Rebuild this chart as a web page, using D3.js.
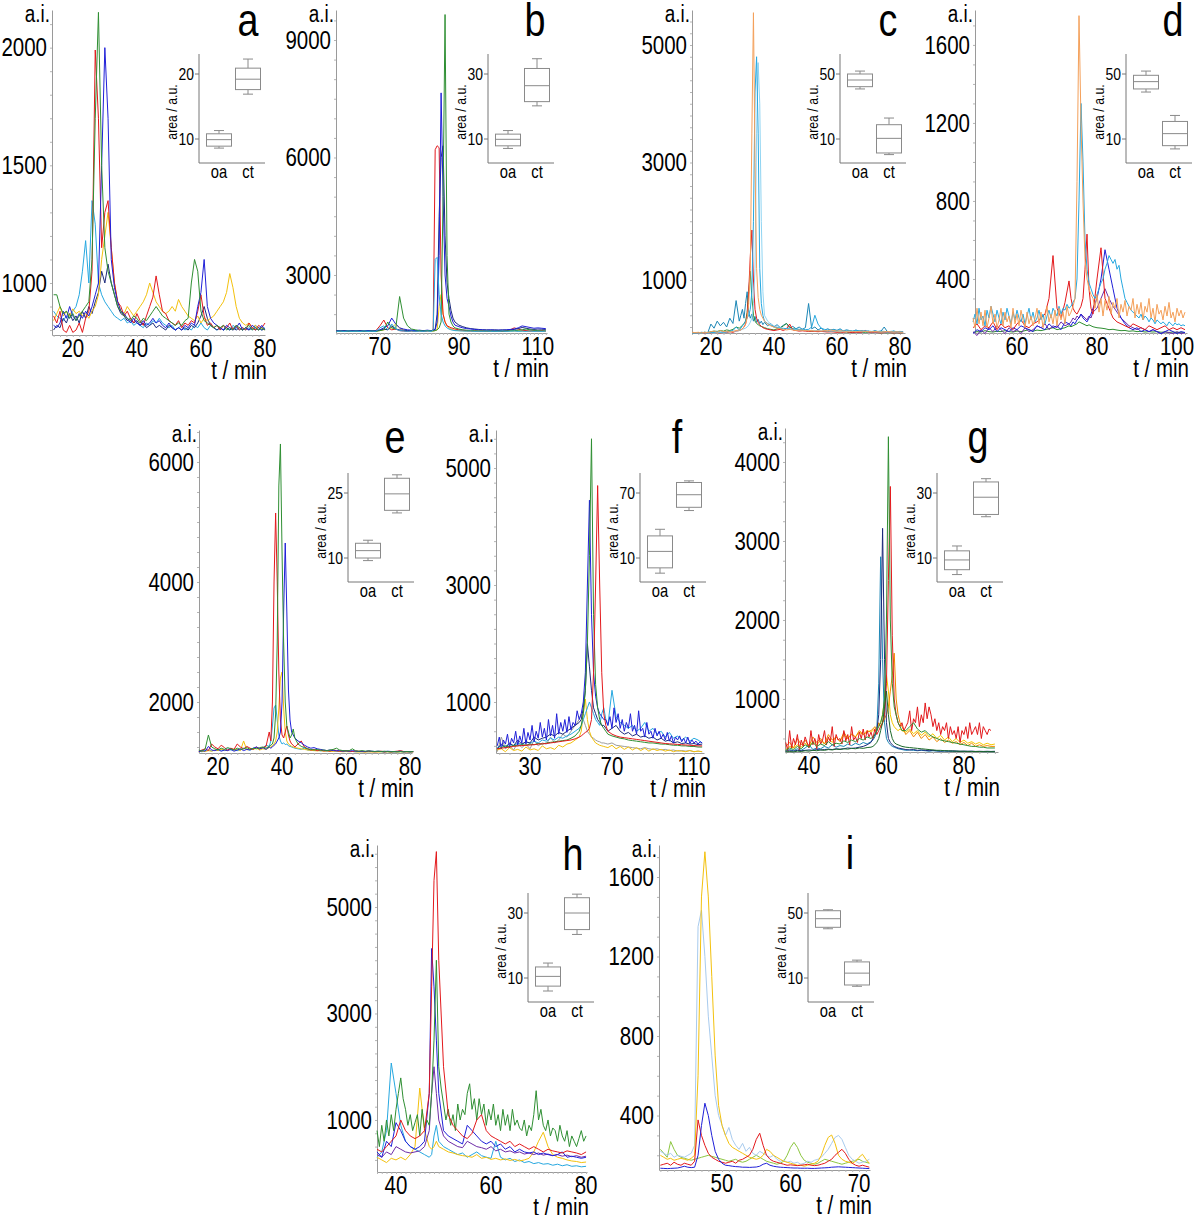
<!DOCTYPE html>
<html><head><meta charset="utf-8">
<script src="https://cdn.jsdelivr.net/npm/d3@7"></script>
<style>
body{margin:0;background:#fff}
svg{display:block}
text{font-family:"Liberation Sans",Arial,sans-serif;fill:#000}
</style></head><body>
<svg id="chart" width="1200" height="1215"></svg>
<script>
// ---------------- DATA ----------------
// Panel a
const aTime=[14,15,16,17,18,19,20,21,22,23,24,25,26,27,28,29,30,31,32,33,34,35,36,37,38,39,40,41,42,43,44,45,46,47,48,49,50,51,52,53,54,55,56,57,58,59,60,61,62,63,64,65,66,67,68,69,70,71,72,73,74,75,76,77,78,79,80];
const aRed=[860,830,880,800,790,820,790,800,830,790,850,880,1050,1990,1700,1150,1300,1350,1150,1000,920,900,860,880,850,830,870,840,820,860,900,940,1030,950,880,870,840,830,820,840,810,830,820,840,830,880,950,860,820,830,810,820,800,820,810,830,800,820,800,810,800,830,810,800,820,810,830];
const aGreen=[950,950,900,870,880,850,870,840,860,880,900,920,1100,1700,2150,1500,1150,1050,1000,950,900,880,860,850,840,860,850,830,850,840,860,880,900,880,860,850,840,830,820,830,820,840,850,1000,1100,1050,880,840,830,820,810,820,810,820,800,810,800,820,810,800,810,820,800,810,800,810,800];
const aBlue=[820,810,830,880,850,900,860,840,870,850,880,860,900,950,1000,1500,2000,1700,1100,980,920,880,870,850,830,850,830,820,840,820,830,850,830,840,820,810,830,810,800,810,800,820,810,830,820,900,960,1100,900,850,830,820,810,800,820,810,800,810,830,800,810,800,820,810,800,820,800];
const aGold=[840,870,900,860,880,860,890,870,880,860,870,850,880,900,950,1100,1200,1300,1150,1000,920,880,870,900,880,860,880,900,920,950,1000,960,920,900,880,870,880,900,880,930,900,880,860,850,840,860,830,850,840,850,860,880,900,920,960,1040,980,900,850,830,820,830,810,820,800,810,800];
const aCyan=[880,860,850,840,860,850,880,900,950,1050,1180,1000,1350,1250,1000,950,920,900,880,860,850,840,850,830,840,820,830,820,810,830,820,840,830,850,830,820,810,820,800,810,820,800,810,800,820,810,830,810,800,820,810,800,810,800,810,800,820,810,800,810,800,810,800,820,810,800,810];
const aNavy=[800,820,810,850,830,870,840,860,830,880,850,900,870,920,960,1050,1000,1080,1000,950,900,870,860,840,850,830,840,820,830,810,820,830,810,820,810,800,820,810,800,810,800,810,800,820,810,830,860,900,850,820,810,800,810,800,810,800,810,800,810,800,810,800,810,800,810,800,805];
const aYTicks=[1000,1500,2000], aXTicks=[20,40,60,80], aInTicks=[10,20];
const aOa=[8.6,8.9,9.9,10.8,11.3], aCt=[16.9,17.6,19.2,20.9,22.3];

// Panel b
const bTime=[59,60,61,62,63,64,65,66,67,68,69,70,71,72,73,74,75,76,77,78,79,80,81,82,83,83.5,84,84.5,85,85.5,86,86.5,87,87.5,88,88.5,89,90,91,92,93,94,95,96,97,98,99,100,101,102,103,104,105,106,107,108,109,110,111,112];
const bRed=[1570,1560,1580,1570,1560,1570,1580,1560,1570,1560,1580,1700,1850,1650,1600,1620,1580,1570,1560,1570,1560,1570,1560,1570,1580,1600,6200,6300,6250,3000,2000,1800,1700,1680,1650,1640,1620,1600,1590,1580,1570,1575,1570,1565,1570,1560,1570,1565,1560,1570,1600,1650,1620,1590,1580,1570,1575,1570,1580,1570];
const bGreen=[1560,1570,1560,1570,1560,1570,1560,1570,1560,1570,1560,1580,1600,1800,1650,1620,2450,1900,1700,1620,1600,1580,1570,1580,1570,1570,1580,1600,1650,1800,5000,9650,3500,2000,1800,1700,1650,1620,1600,1590,1580,1575,1570,1570,1565,1570,1560,1570,1565,1570,1575,1580,1590,1600,1620,1600,1590,1580,1570,1575];
const bBlue=[1570,1580,1570,1575,1570,1580,1570,1575,1580,1570,1575,1600,1650,1700,1900,1750,1650,1620,1600,1590,1580,1590,1580,1590,1580,1590,1600,1800,3500,7650,5000,3000,2400,2200,1950,1800,1720,1680,1650,1630,1620,1610,1600,1600,1590,1600,1590,1595,1590,1600,1610,1620,1650,1700,1680,1660,1640,1650,1640,1630];
const bNavy=[1580,1575,1580,1570,1580,1575,1580,1570,1575,1580,1570,1590,1620,1600,1700,1620,1600,1590,1580,1590,1580,1585,1580,1585,1580,1590,1620,2000,4500,6000,6300,4000,2800,2400,2100,1900,1800,1720,1680,1650,1630,1620,1610,1600,1600,1595,1600,1590,1600,1595,1600,1610,1630,1660,1640,1620,1610,1620,1615,1610];
const bCyan=[1560,1565,1560,1570,1560,1565,1560,1570,1560,1565,1560,1650,1700,1600,1750,1620,1580,1570,1560,1570,1560,1565,1560,1570,1560,1600,3400,3450,2500,2000,1800,1700,1650,1620,1600,1590,1580,1575,1570,1565,1570,1560,1565,1560,1570,1560,1565,1560,1570,1560,1565,1570,1560,1565,1560,1570,1560,1565,1560,1570];
const bGold=[1575,1570,1575,1570,1575,1570,1575,1570,1575,1570,1575,1580,1600,1620,1650,1750,1650,1600,1580,1575,1570,1575,1570,1575,1570,1575,1580,1600,2200,2500,2000,1800,1700,1650,1620,1600,1590,1580,1575,1570,1575,1570,1575,1570,1575,1570,1575,1570,1575,1570,1575,1570,1575,1570,1575,1570,1575,1570,1575,1570];
const bYTicks=[3000,6000,9000], bXTicks=[70,90,110], bInTicks=[10,30];
const bOa=[7.1,7.9,9.9,11.5,12.6], bCt=[20.2,21.5,26.4,31.7,34.7];

// Panel c
const cTime=[14,15,16,17,18,19,20,21,22,23,24,25,26,27,28,29,29.5,30,30.5,31,31.5,32,32.5,33,33.5,34,34.5,35,35.5,36,36.5,37,38,39,40,41,42,43,44,45,46,47,48,49,50,51,52,53,54,55,56,57,58,59,60,61,62,63,64,65,66,67,68,69,70,71,72,73,74,75,76,77,78,79,80,81];
const cOrange=[110,105,110,100,110,105,120,130,110,140,120,130,115,125,140,150,150,170,200,250,350,600,1200,3500,5550,3000,1200,700,500,400,350,300,250,220,200,180,170,160,150,160,150,140,150,145,140,135,140,130,135,130,140,135,150,140,130,135,130,125,130,125,120,125,130,120,125,120,125,120,115,120,125,120,115,120,115,110];
const cCyan=[100,100,105,100,110,100,105,110,120,115,110,120,130,140,200,150,180,220,250,300,350,400,500,800,2000,4200,4800,3500,1200,600,400,300,260,230,200,190,180,170,175,165,160,170,160,165,155,160,200,400,250,180,160,150,155,150,145,150,140,145,140,135,140,135,130,135,130,125,130,125,130,125,120,125,130,120,125,120];
const cLightCyan=[100,100,100,100,105,100,105,100,110,105,110,115,120,125,130,140,150,160,170,180,200,230,280,350,600,1200,3500,4700,4000,2000,800,400,300,250,220,200,190,180,170,165,160,155,150,150,145,145,140,140,138,135,135,132,130,130,128,126,125,124,123,122,121,120,120,119,118,118,117,116,116,115,115,114,114,113,113,112];
const cRed=[100,100,100,105,100,105,100,110,105,100,110,105,120,110,130,140,150,170,200,250,400,800,1400,1850,1000,500,350,280,240,210,190,175,160,150,140,150,160,140,170,250,150,140,130,135,130,125,130,125,120,125,120,115,120,115,110,115,110,120,110,105,110,105,110,140,110,105,110,105,100,105,110,105,100,105,100,105];
const cGreen=[100,100,105,100,110,105,120,130,125,140,130,150,140,160,200,180,200,230,260,300,450,800,1150,700,400,300,260,240,220,210,200,190,170,160,150,170,180,220,260,200,170,160,150,145,140,135,130,135,130,125,130,125,120,125,120,115,120,115,110,115,110,115,110,105,110,105,110,105,100,105,100,105,100,105,100,105];
const cTeal=[100,105,100,110,105,100,250,180,300,220,280,200,350,260,650,300,400,500,350,600,800,450,350,420,300,380,280,330,260,300,240,280,220,260,200,240,190,230,260,180,210,170,200,160,190,600,170,200,150,180,140,170,150,160,140,170,130,150,140,120,150,130,140,120,130,110,140,120,130,200,120,110,130,115,110,120];
const cYTicks=[1000,3000,5000], cXTicks=[20,40,60,80], cInTicks=[10,50];
const cOa=[40.8,42.2,46.3,50,51.8], cCt=[0.4,1.4,10.4,18.8,22.9];

// Panel d
const dTime=[49,50,51,52,53,54,55,56,57,58,59,60,61,62,63,64,65,66,67,68,69,70,71,72,73,73.5,74,74.5,75,75.5,76,76.5,77,77.5,78,78.5,79,80,81,82,83,84,85,86,87,88,89,90,91,92,93,94,95,96,97,98,99,100,101,102];
const dDenseTime=[49,49.5,50,50.5,51,51.5,52,52.5,53,53.5,54,54.5,55,55.5,56,56.5,57,57.5,58,58.5,59,59.5,60,60.5,61,61.5,62,62.5,63,63.5,64,64.5,65,65.5,66,66.5,67,67.5,68,68.5,69,69.5,70,70.5,71,71.5,72,72.5,73,73.5,74,74.5,75,75.5,76,76.5,77,77.5,78,78.5,79,79.5,80,80.5,81,81.5,82,82.5,83,83.5,84,84.5,85,85.5,86,86.5,87,87.5,88,88.5,89,89.5,90,90.5,91,91.5,92,92.5,93,93.5,94,94.5,95,95.5,96,96.5,97,97.5,98,98.5,99,99.5,100,100.5,101,101.5,102];
const dOrange=[200,150,250,170,230,160,240,150,200,260,170,220,150,190,250,160,230,180,210,150,250,170,220,160,240,190,150,230,170,210,160,200,250,170,230,150,200,260,180,220,170,240,160,250,190,230,170,260,210,230,260,300,900,1750,1200,800,500,400,350,320,300,250,320,230,300,210,290,240,310,220,280,250,300,200,270,230,290,210,260,240,300,200,270,220,280,190,260,230,300,200,250,180,270,220,240,190,260,210,280,200,230,180,250,210,240,200,230];
const dCyan=[180,220,170,250,190,210,160,240,200,260,220,180,240,200,170,230,190,250,210,170,230,190,240,200,180,220,170,210,250,190,230,180,200,240,190,220,170,210,240,200,250,230,210,260,220,250,240,270,250,260,280,300,400,800,1300,1000,600,450,380,350,320,300,320,350,380,400,450,480,520,500,480,500,450,470,400,350,300,280,260,240,230,220,210,200,220,190,210,200,180,200,190,170,190,180,170,180,170,160,180,170,160,175,165,170,160,165,160];
const dRed=[150,170,140,160,150,180,140,170,150,160,140,170,190,160,150,170,180,200,220,300,520,250,200,280,390,300,250,230,220,240,260,300,450,630,350,250,220,400,560,300,250,200,180,170,160,150,170,160,150,140,160,150,140,150,160,140,150,140,150,140];
const dBlue=[120,140,130,150,140,160,130,150,140,130,150,140,160,150,140,130,160,150,140,170,150,160,140,180,170,160,180,170,190,200,220,200,190,180,200,220,250,300,400,550,450,350,250,200,170,150,140,150,130,140,130,140,130,120,130,140,130,120,130,125];
const dPurple=[130,110,140,120,150,130,160,140,120,150,130,140,120,150,130,140,160,150,170,140,160,150,180,160,170,180,200,190,210,200,220,210,200,190,210,200,230,250,300,350,300,260,230,200,180,160,150,140,150,140,130,140,130,120,130,125,120,130,120,125];
const dGreen=[125,130,128,135,130,128,132,130,135,130,128,133,130,135,140,132,138,135,140,145,150,140,145,150,160,155,160,165,170,180,175,170,165,160,165,160,155,150,148,145,140,142,138,135,136,132,134,130,132,128,130,128,130,127,128,126,128,126,127,126];
const dYTicks=[400,800,1200,1600], dXTicks=[60,80,100], dInTicks=[10,50];
const dOa=[38.9,40.8,45.3,49.2,51.8], dCt=[3.9,5.9,13.3,20.8,24.5];

// Panel e
const eTime=[14,15,16,17,18,19,20,21,22,23,24,25,26,27,28,29,30,31,32,33,34,35,36,36.5,37,37.5,38,38.5,39,39.5,40,40.5,41,41.5,42,42.5,43,43.5,44,45,46,47,48,49,50,51,52,53,54,55,56,57,58,59,60,61,62,63,64,65,66,67,68,69,70,71,72,73,74,75,76,77,78,79,80,81];
const eRed=[1180,1200,1220,1190,1300,1250,1220,1280,1240,1200,1230,1210,1300,1250,1220,1260,1230,1210,1250,1220,1240,1260,1500,1350,2000,4000,5150,4000,2500,1700,1450,1400,1500,1600,1450,1350,1300,1280,1250,1300,1350,1250,1220,1200,1210,1190,1200,1185,1190,1180,1200,1190,1180,1185,1190,1180,1175,1185,1180,1175,1170,1180,1175,1170,1175,1180,1170,1175,1170,1175,1180,1190,1175,1170,1175,1170];
const eGreen=[1200,1180,1220,1450,1250,1220,1200,1230,1210,1240,1220,1200,1230,1210,1220,1240,1210,1230,1220,1240,1250,1230,1260,1280,1300,1400,1800,3000,5600,6300,4500,3000,2000,1600,1500,1400,1450,1550,1400,1300,1260,1240,1220,1210,1200,1210,1195,1200,1190,1200,1210,1230,1200,1190,1185,1190,1220,1185,1180,1190,1180,1185,1180,1175,1180,1175,1180,1175,1170,1175,1170,1175,1170,1175,1170,1175];
const eBlue=[1170,1190,1180,1260,1200,1190,1210,1180,1200,1190,1210,1180,1200,1220,1190,1210,1200,1230,1250,1220,1240,1210,1250,1230,1250,1280,1300,1350,1400,1500,2000,3500,4650,3500,2200,1700,1500,1450,1400,1350,1320,1280,1250,1230,1240,1220,1210,1200,1190,1200,1190,1185,1190,1180,1185,1180,1190,1180,1175,1180,1175,1185,1180,1175,1180,1175,1170,1180,1175,1170,1175,1180,1170,1175,1170,1175];
const eGold=[1170,1180,1175,1190,1180,1200,1190,1210,1200,1190,1220,1200,1210,1190,1350,1200,1220,1210,1230,1200,1220,1210,1240,1250,1270,1300,1350,1500,1900,2400,2500,1900,1500,1350,1300,1280,1260,1250,1240,1230,1220,1210,1200,1195,1190,1185,1190,1180,1185,1180,1175,1180,1175,1170,1175,1170,1175,1170,1165,1170,1165,1170,1165,1170,1165,1170,1165,1170,1165,1170,1165,1170,1165,1170,1165,1170];
const eCyan=[1180,1170,1190,1200,1185,1195,1210,1200,1190,1220,1200,1210,1190,1200,1230,1210,1200,1220,1240,1210,1230,1280,1260,1350,1600,1900,1950,1700,1450,1350,1300,1320,1290,1300,1270,1260,1250,1240,1230,1220,1210,1230,1200,1195,1190,1200,1185,1190,1180,1185,1200,1180,1175,1180,1175,1180,1175,1170,1175,1170,1175,1170,1175,1170,1175,1170,1165,1170,1165,1170,1165,1170,1165,1170,1165,1170];
const eYTicks=[2000,4000,6000], eXTicks=[20,40,60,80], eInTicks=[10,25];
const eOa=[9.4,10.0,11.7,13.4,14.1], eCt=[20.4,21.0,24.8,28.4,29.2];

// Panel f
const fTime=[14,16,18,20,22,24,26,28,30,32,34,36,38,40,42,44,46,48,50,52,54,55,56,57,58,59,60,61,62,63,64,65,66,67,68,70,72,74,76,78,80,82,84,86,88,90,92,94,96,98,100,102,104,106,108,110,112,114];
const fDenseTime=[14,15,16,17,18,19,20,21,22,23,24,25,26,27,28,29,30,31,32,33,34,35,36,37,38,39,40,41,42,43,44,45,46,47,48,49,50,51,52,53,54,55,56,57,58,59,60,61,62,63,64,65,66,67,68,69,70,71,72,73,74,75,76,77,78,79,80,81,82,83,84,85,86,87,88,89,90,91,92,93,94,95,96,97,98,99,100,101,102,103,104,105,106,107,108,109,110,111,112,113,114];
const fBlue=[250,400,200,350,280,450,220,380,300,500,260,420,300,550,280,480,350,600,320,500,380,650,400,550,350,700,420,600,380,800,450,650,500,700,480,750,520,650,600,850,700,800,1000,1500,3000,4450,2500,1500,1100,900,800,750,700,700,600,750,550,900,650,800,550,700,500,650,550,800,500,600,450,850,500,550,400,650,450,500,380,550,420,500,380,450,350,480,330,420,300,400,350,420,320,380,300,400,290,350,300,330,280,320,300];
const fNavy=[200,280,220,300,250,350,280,320,300,400,350,380,400,450,420,480,450,500,550,600,650,700,900,1200,2000,1600,1200,900,800,700,650,600,600,550,500,550,600,500,450,480,420,450,400,420,380,400,350,380,330,350,300,320,290,300,280,290,270,280];
const fGreen=[200,220,250,230,260,250,270,260,280,270,290,280,300,310,320,330,340,350,380,420,500,600,800,1200,2000,3500,5500,2500,1300,900,700,600,550,500,450,420,400,380,370,350,340,330,320,310,300,300,290,280,280,270,260,260,250,250,240,240,230,230];
const fRed=[200,210,220,230,240,250,255,260,265,270,280,285,290,300,310,320,330,340,350,370,400,420,450,480,500,550,700,1500,3000,4700,3000,1500,800,600,500,450,420,400,390,380,370,360,350,340,330,320,310,300,290,285,280,275,270,265,260,255,250,250];
const fGold=[180,200,150,220,170,190,160,230,180,200,170,250,200,220,190,260,230,280,300,350,400,500,800,1050,700,500,400,350,300,280,260,250,240,230,220,260,200,240,190,230,180,220,170,210,160,200,170,190,160,180,150,170,160,150,170,150,160,150];
const fGray=[150,400,200,250,180,300,220,280,200,350,250,300,280,400,300,350,450,400,500,600,700,800,700,600,500,450,400,380,350,330,320,300,300,290,280,300,260,250,240,230,220,210,200,220,200,190,200,180,190,170,180,160,170,160,170,150,160,150];
const fCyan=[220,260,240,280,250,300,270,320,290,330,300,350,330,380,350,400,380,420,450,500,550,600,700,800,900,1000,900,800,700,650,600,800,900,700,600,1200,750,650,600,550,600,500,550,650,500,550,450,500,400,480,380,420,350,400,330,380,350,300];
const fYTicks=[1000,3000,5000], fXTicks=[30,70,110], fInTicks=[10,70];
const fOa=[-4.0,0.9,16.1,30.4,36.5], fCt=[53.8,56.8,68.4,79.7,81.2];

// Panel g
const gTime=[34,35,36,37,38,39,40,41,42,43,44,45,46,47,48,49,50,51,52,53,54,55,56,56.5,57,57.5,58,58.5,59,59.5,60,60.5,61,61.5,62,62.5,63,63.5,64,65,66,67,68,69,70,71,72,73,74,75,76,77,78,79,80,81,82,83,84,85,86,87,88];
const gDenseTime=[34,34.5,35,35.5,36,36.5,37,37.5,38,38.5,39,39.5,40,40.5,41,41.5,42,42.5,43,43.5,44,44.5,45,45.5,46,46.5,47,47.5,48,48.5,49,49.5,50,50.5,51,51.5,52,52.5,53,53.5,54,54.5,55,55.5,56,56.5,57,57.5,58,58.5,59,59.5,60,60.5,61,61.5,62,62.5,63,63.5,64,64.5,65,65.5,66,66.5,67,67.5,68,68.5,69,69.5,70,70.5,71,71.5,72,72.5,73,73.5,74,74.5,75,75.5,76,76.5,77,77.5,78,78.5,79,79.5,80,80.5,81,81.5,82,82.5,83,83.5,84,84.5,85,85.5,86,86.5,87];
const gRed=[450,350,600,380,500,420,550,360,480,400,520,450,380,600,420,500,370,550,430,480,600,420,520,460,650,400,550,480,500,430,600,470,550,420,650,480,520,450,580,500,620,480,600,520,580,500,620,550,600,650,700,800,1200,2500,3690,1800,1000,800,700,650,700,600,650,700,850,600,750,700,900,650,800,700,950,750,900,800,650,750,600,700,550,650,600,700,500,650,550,600,500,650,450,600,550,650,500,700,550,600,650,550,700,500,650,600,550,620,600];
const gGreen=[350,380,360,400,370,420,390,450,400,430,410,460,420,440,430,470,450,480,460,500,480,520,500,520,550,600,650,700,800,1000,2000,4320,2000,1200,900,800,700,650,600,600,650,700,620,580,600,550,520,500,480,470,460,450,440,430,420,410,400,400,390,390,380,380,380];
const gNavy=[340,345,340,350,345,350,355,350,360,355,360,365,360,370,365,370,380,375,380,390,400,420,450,500,550,600,800,1500,3160,1500,700,500,450,420,400,390,380,375,370,360,355,360,350,355,350,345,350,345,340,345,340,345,340,338,340,338,340,336,338,336,338,336,338];
const gOrange=[400,450,380,500,420,480,400,520,450,500,430,550,480,520,460,580,500,550,520,600,550,580,600,620,650,600,700,650,700,750,800,900,1100,1300,1580,1000,800,700,650,550,600,520,580,500,550,480,520,460,500,450,480,440,460,420,450,410,440,400,420,400,410,400,400];
const gYellow=[360,400,380,420,390,440,400,460,420,480,430,500,450,520,470,540,500,560,520,580,550,600,580,600,620,640,660,700,800,1000,1300,1100,800,700,650,620,600,620,600,580,620,560,600,540,580,520,560,500,540,480,520,460,500,450,480,440,460,430,450,420,440,420,430];
const gDarkGreen=[330,335,330,340,335,345,340,350,345,355,350,360,355,365,360,370,365,375,370,380,375,385,390,400,420,450,500,600,700,900,1100,800,600,500,450,430,420,410,400,390,385,380,375,370,365,360,355,350,350,345,345,340,340,338,338,336,336,335,335,334,334,333,333];
const gTeal=[340,360,345,370,350,380,420,360,380,370,400,380,420,390,410,400,430,410,440,420,450,430,460,480,520,600,1200,2800,1500,700,500,450,420,400,390,380,370,365,360,350,355,350,345,350,345,340,345,340,338,340,338,336,338,336,335,336,335,334,335,334,333,334,333];
const gYTicks=[1000,2000,3000,4000], gXTicks=[40,60,80], gInTicks=[10,30];
const gOa=[4.9,6.4,9.4,12.2,13.7], gCt=[22.7,23.4,28.7,33.4,34.4];

// Panel h
const hTime=[36,37,38,39,40,41,42,43,44,45,46,47,47.5,48,48.5,49,50,51,52,53,54,55,56,57,58,59,60,61,62,63,64,65,66,67,68,69,70,71,72,73,74,75,76,77,78,79,80];
const hDenseTime=[36,36.5,37,37.5,38,38.5,39,39.5,40,40.5,41,41.5,42,42.5,43,43.5,44,44.5,45,45.5,46,46.5,47,47.5,48,48.5,49,49.5,50,50.5,51,51.5,52,52.5,53,53.5,54,54.5,55,55.5,56,56.5,57,57.5,58,58.5,59,59.5,60,60.5,61,61.5,62,62.5,63,63.5,64,64.5,65,65.5,66,66.5,67,67.5,68,68.5,69,69.5,70,70.5,71,71.5,72,72.5,73,73.5,74,74.5,75,75.5,76,76.5,77,77.5,78,78.5,79,79.5,80];
const hRed=[450,400,500,600,700,1000,800,700,650,700,800,1500,3500,5500,6040,4000,2000,1100,900,800,700,650,750,1000,1100,800,700,650,600,550,600,500,550,500,450,500,450,400,450,420,400,380,420,400,380,350,400];
const hGreen=[800,500,900,600,1000,700,1100,800,1200,1500,1790,1400,1200,900,1100,800,950,1100,700,1200,850,1000,900,1500,2500,4000,2000,1600,1300,1000,1200,900,1100,800,1300,1000,1200,1100,1500,1680,1200,1400,1000,1400,1100,1300,900,1200,1000,1300,900,1100,800,1200,900,1100,800,1200,900,1000,850,800,1000,700,900,800,1100,1550,1000,1200,900,800,1000,700,850,800,600,900,700,600,800,500,700,600,500,650,800,600,700];
const hBlue=[400,300,600,500,950,800,600,500,450,500,600,1500,4220,3500,2500,1500,800,700,650,600,550,900,800,700,600,550,600,500,550,450,500,400,450,400,380,400,350,380,350,330,350,400,300,320,300,280,300];
const hCyan=[300,400,800,2070,1500,900,600,500,450,400,350,300,350,700,900,600,500,450,400,350,380,300,350,400,330,300,280,600,300,250,280,220,250,200,220,180,200,170,180,150,170,140,160,130,140,120,130];
const hGold=[300,250,200,280,250,300,250,350,500,1600,800,500,450,500,600,500,450,400,380,350,330,320,300,350,280,300,260,280,250,270,240,260,230,250,280,400,600,770,500,350,300,280,250,230,220,200,210];
const hPurple=[350,300,400,350,500,450,400,380,400,420,500,800,1500,2000,1500,1000,700,600,550,500,480,600,550,500,480,450,500,420,450,400,420,380,400,360,380,350,380,340,360,330,350,320,340,310,330,300,320];
const hYTicks=[1000,3000,5000], hXTicks=[40,60,80], hInTicks=[10,30];
const hOa=[6.0,7.5,10.5,13.4,14.6], hCt=[23.4,24.9,30,34.7,35.8];

// Panel i
const iTime=[41,41.5,42,42.5,43,43.5,44,44.5,45,45.5,46,46.5,47,47.5,48,48.5,49,49.5,50,50.5,51,51.5,52,52.5,53,53.5,54,54.5,55,55.5,56,56.5,57,57.5,58,58.5,59,59.5,60,60.5,61,61.5,62,62.5,63,63.5,64,64.5,65,65.5,66,66.5,67,67.5,68,68.5,69,69.5,70,70.5,71,71.5];
const iGold=[200,190,180,185,175,180,185,180,175,185,200,600,1500,1727,1500,1100,700,450,350,300,260,240,230,220,210,200,190,185,180,185,200,230,220,200,190,180,170,165,160,155,150,150,145,150,155,160,170,200,250,290,302,260,200,180,170,165,160,170,190,205,180,160];
const iLightBlue=[220,210,200,210,190,200,195,190,200,210,250,1350,1433,1200,900,700,500,400,352,300,340,280,250,230,260,220,240,210,200,220,210,200,190,200,180,170,175,165,170,160,165,155,160,170,165,175,180,190,210,230,260,290,300,280,240,200,180,170,160,165,170,180];
const iBlue=[135,134,133,134,135,136,140,145,140,138,140,200,350,462,400,300,220,180,160,150,148,145,143,142,140,140,139,140,141,145,155,160,150,145,142,140,139,138,137,136,136,135,135,135,134,134,135,136,137,138,140,141,142,141,140,139,138,137,136,135,134,133];
const iRed=[150,155,160,150,165,155,150,160,155,150,170,378,300,250,210,190,180,170,165,160,165,170,160,175,180,190,200,230,280,311,250,200,180,170,165,160,155,150,152,150,148,150,152,155,150,148,150,155,160,170,180,200,215,230,210,180,160,150,145,150,145,140];
const iLime=[230,210,190,269,230,200,190,185,180,175,180,185,190,195,200,195,190,185,180,175,170,175,180,170,165,170,180,190,200,190,180,170,165,160,155,160,170,200,240,265,240,200,175,165,160,155,160,170,180,175,170,165,160,155,160,165,170,175,180,170,165,160];
const iYTicks=[400,800,1200,1600], iXTicks=[50,60,70], iInTicks=[10,50];
const iOa=[40.3,41.2,46.5,51.4,52.0], iCt=[4.9,5.7,13.0,19.9,21.0];

// ---------------- STYLE / LAYOUT ----------------
const COLORS={red:'#e3191c',green:'#2f8f33',blue:'#2020d8',navy:'#1c2a7c',gold:'#f3c10e',orange:'#f4a05a',
  cyan:'#27a8e0',lightcyan:'#8fd4f2',teal:'#1b86b6',purple:'#6f2da8',gray:'#9c9c9c',lightblue:'#a8cbee',
  lime:'#8cc63f',darkgreen:'#1d6a2b',amber:'#f08a00',yellow:'#f5c800'};
const AXIS='#9a9a9a';
const NARROW=0.82;

const panels=[
 {letter:'a',t:aTime,series:[[aCyan,'cyan'],[aNavy,'navy'],[aGold,'gold'],[aRed,'red'],[aBlue,'blue'],[aGreen,'green']],yT:aYTicks,xT:aXTicks,inT:aInTicks,oa:aOa,ct:aCt,
  L:{x0:52,x1:265,y0:335,y1:10,xd:[13.5,80],yd:[779,2160],ym:100,xm:2,ix:199,it:54,lx:248,lb:36}},
 {letter:'b',t:bTime,series:[[bGold,'gold'],[bRed,'red'],[bNavy,'navy'],[bBlue,'blue'],[bGreen,'green'],[bCyan,'cyan']],yT:bYTicks,xT:bXTicks,inT:bInTicks,oa:bOa,ct:bCt,
  L:{x0:336,x1:547,y0:333,y1:10,xd:[58.9,112.3],yd:[1519,9766],ym:500,xm:1,ix:488,it:54,lx:535,lb:36}},
 {letter:'c',t:cTime,series:[[cTeal,'teal'],[cGreen,'green'],[cRed,'red'],[cLightCyan,'lightcyan'],[cCyan,'cyan'],[cOrange,'orange']],yT:cYTicks,xT:cXTicks,inT:cInTicks,oa:cOa,ct:cCt,
  L:{x0:692,x1:905,y0:333,y1:10,xd:[14,81.6],yd:[98,5596],ym:200,xm:2,ix:840,it:54,lx:888,lb:36}},
 {letter:'d',t:dTime,series:[[dGreen,'green'],[dPurple,'purple'],[dBlue,'blue'],[dRed,'red'],[dCyan,'cyan',dDenseTime],[dOrange,'orange',dDenseTime]],yT:dYTicks,xT:dXTicks,inT:dInTicks,oa:dOa,ct:dCt,
  L:{x0:975,x1:1187,y0:333,y1:10,xd:[49.5,102.5],yd:[123,1779],ym:100,xm:1,ix:1126,it:54,lx:1173,lb:36}},
 {letter:'e',t:eTime,series:[[eCyan,'cyan'],[eGold,'gold'],[eRed,'red'],[eBlue,'blue'],[eGreen,'green']],yT:eYTicks,xT:eXTicks,inT:eInTicks,oa:eOa,ct:eCt,
  L:{x0:199,x1:412,y0:753,y1:430,xd:[14.06,80.6],yd:[1150,6533],ym:250,xm:2,ix:348,it:473,lx:395,lb:453}},
 {letter:'f',t:fTime,series:[[fGray,'gray'],[fGold,'gold'],[fCyan,'cyan'],[fNavy,'navy'],[fBlue,'blue',fDenseTime],[fGreen,'green'],[fRed,'red']],yT:fYTicks,xT:fXTicks,inT:fInTicks,oa:fOa,ct:fCt,
  L:{x0:496,x1:704,y0:753,y1:430,xd:[13.4,114.9],yd:[128,5650],ym:250,xm:5,ix:640,it:473,lx:677,lb:453}},
 {letter:'g',t:gTime,series:[[gYellow,'yellow'],[gTeal,'teal'],[gOrange,'amber'],[gNavy,'navy'],[gRed,'red',gDenseTime],[gGreen,'green'],[gDarkGreen,'darkgreen']],yT:gYTicks,xT:gXTicks,inT:gInTicks,oa:gOa,ct:gCt,
  L:{x0:785,x1:998,y0:752,y1:428,xd:[33.8,88.8],yd:[329,4430],ym:250,xm:2,ix:937,it:473,lx:978,lb:453}},
 {letter:'h',t:hTime,series:[[hCyan,'cyan'],[hGold,'gold'],[hPurple,'purple'],[hBlue,'blue'],[hGreen,'green',hDenseTime],[hRed,'red']],yT:hYTicks,xT:hXTicks,inT:hInTicks,oa:hOa,ct:hCt,
  L:{x0:377,x1:587,y0:1172,y1:845,xd:[36,80.2],yd:[23,6164],ym:250,xm:1,ix:528,it:893,lx:573,lb:870}},
 {letter:'i',t:iTime,series:[[iLime,'lime'],[iLightBlue,'lightblue'],[iGold,'gold'],[iRed,'red'],[iBlue,'blue']],yT:iYTicks,xT:iXTicks,inT:iInTicks,oa:iOa,ct:iCt,
  L:{x0:659,x1:870,y0:1170,y1:845,xd:[40.8,71.6],yd:[126,1761],ym:100,xm:1,ix:808,it:893,lx:850,lb:869}}
];

const svg=d3.select('#chart');

function txt(sel,x,y,str,size,anchor,opts){
  opts=opts||{};
  const t=sel.append('text')
    .attr('transform',`translate(${x},${y})${opts.rotate?` rotate(${opts.rotate})`:''} scale(${NARROW},1)`)
    .attr('text-anchor',anchor).attr('font-size',size).text(str);
  if(opts.dy) t.attr('dy',opts.dy);
  return t;
}

function drawPanel(p){
  const L=p.L;
  const g=svg.append('g').attr('class','panel-'+p.letter);
  const x=d3.scaleLinear().domain(L.xd).range([L.x0,L.x1]);
  const y=d3.scaleLinear().domain(L.yd).range([L.y0,L.y1]);

  const yMinor=d3.range(Math.ceil(L.yd[0]/L.ym)*L.ym,L.yd[1],L.ym);
  g.append('g').attr('transform',`translate(${L.x0},0)`)
    .call(d3.axisLeft(y).tickValues(yMinor).tickSize(2).tickSizeOuter(0).tickFormat(''))
    .call(a=>{a.select('.domain').attr('stroke',AXIS);a.selectAll('.tick line').attr('stroke','#b5b5b5');});
  const xMinor=d3.range(Math.ceil(L.xd[0]/L.xm)*L.xm,L.xd[1],L.xm);
  g.append('g').attr('transform',`translate(0,${L.y0})`)
    .call(d3.axisBottom(x).tickValues(xMinor).tickSize(2).tickSizeOuter(0).tickFormat(''))
    .call(a=>{a.select('.domain').attr('stroke',AXIS);a.selectAll('.tick line').attr('stroke','#b5b5b5');});

  p.series.forEach(([vals,col,times])=>{
    const tt=times||p.t;
    const line=d3.line().x((d,i)=>x(tt[i])).y(d=>y(d)).defined((d,i)=>i<tt.length);
    g.append('path').datum(vals).attr('d',line).attr('fill','none')
     .attr('stroke',COLORS[col]).attr('stroke-width',1).attr('stroke-linejoin','round');
  });

  p.yT.forEach(v=>txt(g,L.x0-5,y(v),v,25,'end',{dy:'0.35em'}));
  p.xT.forEach(v=>txt(g,x(v),L.y0+22,v,25,'middle'));
  txt(g,L.x1+2,L.y0+44,'t / min',25,'end');
  txt(g,L.x0-2,L.y1+12,'a.i.',23,'end');
  txt(g,L.lx,L.lb,p.letter,46,'middle');

  const [lo,hi]=p.inT;
  const ib=L.it+109;
  const iy=d3.scaleLinear().domain([lo-24/65*(hi-lo),hi+20/65*(hi-lo)]).range([ib,L.it]);
  const ix=d3.scalePoint().domain(['oa','ct']).range([L.ix+20,L.ix+49]);
  const ig=g.append('g').attr('class','inset');
  ig.append('line').attr('x1',L.ix).attr('x2',L.ix).attr('y1',L.it).attr('y2',ib).attr('stroke','#777');
  ig.append('line').attr('x1',L.ix).attr('x2',L.ix+66).attr('y1',ib).attr('y2',ib).attr('stroke','#777');
  p.inT.forEach(v=>{
    ig.append('line').attr('x1',L.ix-4).attr('x2',L.ix).attr('y1',iy(v)).attr('y2',iy(v)).attr('stroke','#777');
    txt(ig,L.ix-5,iy(v),v,17,'end',{dy:'0.35em'});
  });
  txt(ig,L.ix-22,L.it+58,'area / a.u.',15,'middle',{rotate:-90});
  [['oa',p.oa],['ct',p.ct]].forEach(([k,s])=>{
    const cx=ix(k);
    const bx=ig.append('g').attr('stroke','#8a8a8a').attr('fill','none');
    bx.append('line').attr('x1',cx).attr('x2',cx).attr('y1',iy(s[4])).attr('y2',iy(s[3]));
    bx.append('line').attr('x1',cx).attr('x2',cx).attr('y1',iy(s[1])).attr('y2',iy(s[0]));
    bx.append('line').attr('x1',cx-5).attr('x2',cx+5).attr('y1',iy(s[4])).attr('y2',iy(s[4]));
    bx.append('line').attr('x1',cx-5).attr('x2',cx+5).attr('y1',iy(s[0])).attr('y2',iy(s[0]));
    bx.append('rect').attr('x',cx-12.5).attr('width',25).attr('y',iy(s[3])).attr('height',iy(s[1])-iy(s[3])).attr('fill','#fff');
    bx.append('line').attr('x1',cx-12.5).attr('x2',cx+12.5).attr('y1',iy(s[2])).attr('y2',iy(s[2]));
    txt(ig,cx,ib+15,k,18,'middle');
  });
}
panels.forEach(drawPanel);
</script>
</body></html>
